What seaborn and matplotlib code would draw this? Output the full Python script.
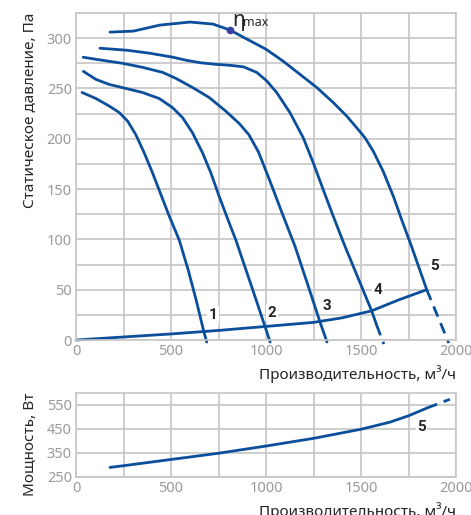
import matplotlib
matplotlib.use('Agg')
import matplotlib.pyplot as plt
from matplotlib.ticker import MultipleLocator
import seaborn as sns

# Fan curves (flow m3/h, static pressure Pa)
c1_x = [32, 105, 175, 228, 272, 315, 359, 403, 447, 491, 543, 590, 632, 672, 688]
c1_y = [246, 240, 232.5, 226, 217.5, 204, 186, 166, 144.5, 123, 99.5, 70, 40, 9, -2]

c2_x = [39, 105, 175, 263, 350, 438, 508, 561, 613, 666, 710, 753, 797, 841, 930, 1022]
c2_y = [267, 259, 254, 250, 246, 240, 231, 221, 206, 186, 166, 143, 121, 99.5, 50, -2]

c3_x = [38, 105, 245, 350, 456, 526, 613, 701, 788, 860, 910, 960, 1000, 1039, 1091, 1153, 1218, 1284, 1321]
c3_y = [281, 279, 275, 271, 266, 260, 251, 241, 227.5, 215, 204, 187, 168, 149, 123, 93, 56, 18, -2]

c4_x = [126, 267, 389, 512, 580, 657, 736, 811, 881, 951, 1004, 1056, 1126, 1196, 1249, 1302, 1354, 1416, 1486, 1556, 1582]
c4_y = [290, 288, 285, 281, 278, 275.5, 274, 273, 271.5, 266, 257.5, 246, 226, 201, 176, 149, 123, 93, 61, 29, 15]
c4_dash_x = [1582, 1620]
c4_dash_y = [15, -4]

c5_x = [179, 302, 442, 600, 721, 811, 900, 1000, 1091, 1179, 1267, 1354, 1425, 1486, 1521, 1565, 1617, 1670, 1714, 1766, 1846]
c5_y = [306, 307, 313, 316, 314, 308, 299, 289, 277, 264, 251, 236, 222.5, 209, 201, 187.5, 167.5, 143, 119.5, 93, 50]
c5_dash_x = [1846, 1962]
c5_dash_y = [50, -3]

# system (network) curve
sys_x = [0, 250, 500, 750, 1000, 1250, 1400, 1556, 1700, 1846]
sys_y = [0, 3, 6, 9.5, 13.5, 17.5, 22, 29, 40, 50]

eta_x, eta_y = 811, 308

curve_labels = ['1', '2', '3', '4', '5']
label_x = [721, 1032, 1321, 1589, 1889]
label_y = [25, 27, 34, 50, 74]

# Power curve (flow m3/h, W)
pw_x = [179, 250, 500, 750, 1000, 1250, 1500, 1650, 1750, 1846]
pw_y = [290, 297, 323, 349, 379, 411, 449, 478, 505, 537]
pw_dash_x = [1846, 1968]
pw_dash_y = [537, 574]

blue = '#0b4f9c'
grid_c = '#c6c6c6'
tick_c = '#9a9a9a'

sns.set_theme(style='white')
plt.rcParams['font.family'] = ['Noto Sans', 'DejaVu Sans']

fig = plt.figure(figsize=(4.71, 5.15), dpi=100)
ax = fig.add_axes([76 / 471, 1 - 340 / 515, 380 / 471, 327 / 515])
ax2 = fig.add_axes([76 / 471, 1 - 477 / 515, 380 / 471, 84 / 515])

lw = 2.0
for xs, ys in [(c1_x, c1_y), (c2_x, c2_y), (c3_x, c3_y), (c4_x, c4_y), (c5_x, c5_y), (sys_x, sys_y)]:
    sns.lineplot(x=xs, y=ys, ax=ax, color=blue, linewidth=lw, clip_on=False, sort=False)
for xs, ys in [(c4_dash_x, c4_dash_y), (c5_dash_x, c5_dash_y)]:
    ax.plot(xs, ys, color=blue, linewidth=lw, dashes=(4, 2.5), clip_on=False)

ax.plot([eta_x], [eta_y], 'o', color='#3a3f9e', markersize=4.5, zorder=5)
ax.text(eta_x + 10, eta_y + 10, 'η', fontsize=15, ha='left', va='center')
ax.text(eta_x + 70, eta_y + 8, 'max', fontsize=9, ha='left', va='center')

num_font = dict(fontsize=11, fontweight='bold', family=['Roboto', 'DejaVu Sans'])
for lab, lx, ly in zip(curve_labels, label_x, label_y):
    ax.text(lx, ly, lab, ha='center', va='center', **num_font,
            bbox=dict(facecolor='white', edgecolor='none', pad=1))

ax.set_xlim(0, 2000)
ax.set_ylim(0, 325)
ax.xaxis.set_major_locator(MultipleLocator(500))
ax.xaxis.set_minor_locator(MultipleLocator(250))
ax.yaxis.set_major_locator(MultipleLocator(50))
ax.yaxis.set_minor_locator(MultipleLocator(25))
ax.set_ylabel('Статическое давление, Па', fontsize=11, loc='top', labelpad=6)
ax.set_xlabel('Производительность, м³/ч', fontsize=11, loc='right', labelpad=4)

# power chart
sns.lineplot(x=pw_x, y=pw_y, ax=ax2, color=blue, linewidth=lw)
ax2.plot(pw_dash_x, pw_dash_y, color=blue, linewidth=lw, dashes=(4, 2.5))
ax2.text(1819, 460, '5', ha='center', va='center', **num_font,
         bbox=dict(facecolor='white', edgecolor='none', pad=1))
ax2.set_xlim(0, 2000)
ax2.set_ylim(250, 600)
ax2.xaxis.set_major_locator(MultipleLocator(500))
ax2.xaxis.set_minor_locator(MultipleLocator(250))
ax2.set_yticks([250, 350, 450, 550])
ax2.set_ylabel('Мощность, Вт', fontsize=11, loc='top', labelpad=6)
ax2.set_xlabel('Производительность, м³/ч', fontsize=11, loc='right', labelpad=4)

for a in (ax, ax2):
    a.grid(True, which='both', color=grid_c, linewidth=1.2)
    a.set_axisbelow(True)
    for s in a.spines.values():
        s.set_color(grid_c)
        s.set_linewidth(1.2)
    a.tick_params(which='both', length=0, labelsize=10.5, labelcolor=tick_c, pad=3)

fig.savefig('out.png', dpi=100)
